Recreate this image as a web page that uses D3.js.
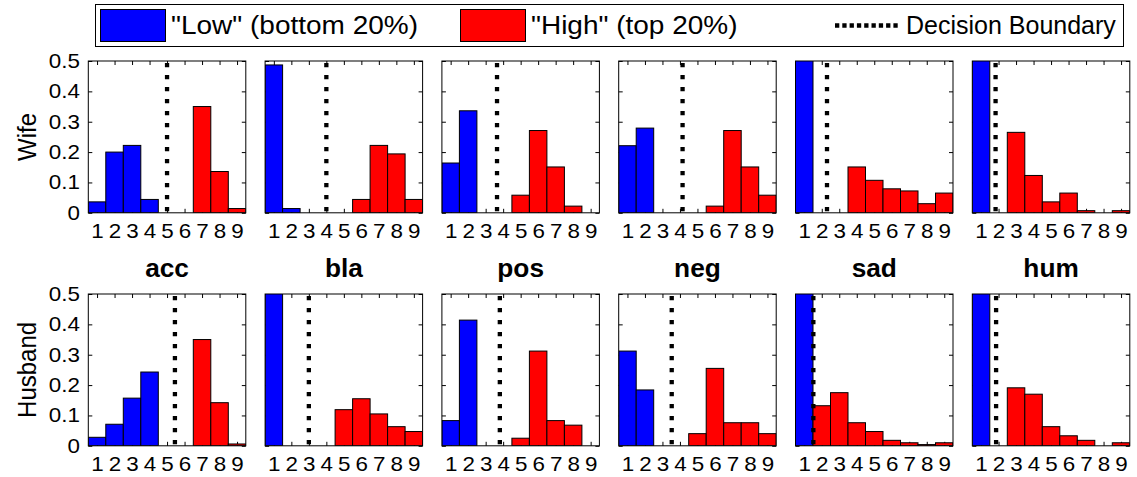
<!DOCTYPE html>
<html>
<head>
<meta charset="utf-8">
<script src="https://cdn.jsdelivr.net/npm/d3@7"></script>
<style>
  html, body { margin: 0; padding: 0; background: #fff; }
  svg { display: block; font-family: "Liberation Sans", Arial, Helvetica, sans-serif; }
</style>
</head>
<body>
<svg id="chart" width="1137" height="477"></svg>
<script>
// Emotion categories (one column each) and speaker rows
const categories = ["acc", "bla", "pos", "neg", "sad", "hum"];
const rows = ["Wife", "Husband"];
const binLabels = ["1", "2", "3", "4", "5", "6", "7", "8", "9"];
const yTicks = [0, 0.1, 0.2, 0.3, 0.4, 0.5];

// Relative frequency per rating bin, "Low" group (bottom 20%)
const wifeLow = [
  [0.036, 0.200, 0.222, 0.044, 0, 0, 0, 0, 0],
  [0.487, 0.014, 0, 0, 0, 0, 0, 0, 0],
  [0.164, 0.336, 0, 0, 0, 0, 0, 0, 0],
  [0.221, 0.279, 0, 0, 0, 0, 0, 0, 0],
  [0.62, 0, 0, 0, 0, 0, 0, 0, 0],
  [0.58, 0, 0, 0, 0, 0, 0, 0, 0]
];
// "High" group (top 20%)
const wifeHigh = [
  [0, 0, 0, 0, 0, 0, 0.350, 0.136, 0.014],
  [0, 0, 0, 0, 0, 0.044, 0.222, 0.194, 0.044],
  [0, 0, 0, 0, 0.058, 0.271, 0.151, 0.022, 0],
  [0, 0, 0, 0, 0, 0.022, 0.271, 0.151, 0.058],
  [0, 0, 0, 0.151, 0.107, 0.079, 0.072, 0.030, 0.065],
  [0, 0, 0.265, 0.123, 0.036, 0.065, 0.007, 0, 0.007]
];
const husbandLow = [
  [0.028, 0.071, 0.157, 0.243, 0, 0, 0, 0, 0],
  [0.55, 0, 0, 0, 0, 0, 0, 0, 0],
  [0.083, 0.414, 0, 0, 0, 0, 0, 0, 0],
  [0.312, 0.184, 0, 0, 0, 0, 0, 0, 0],
  [0.60, 0, 0, 0, 0, 0, 0, 0, 0],
  [0.60, 0, 0, 0, 0, 0, 0, 0, 0]
];
const husbandHigh = [
  [0, 0, 0, 0, 0, 0, 0.350, 0.142, 0.006],
  [0, 0, 0, 0, 0.119, 0.155, 0.105, 0.063, 0.047],
  [0, 0, 0, 0, 0.025, 0.312, 0.083, 0.068, 0],
  [0, 0, 0, 0, 0.040, 0.255, 0.076, 0.076, 0.040],
  [0, 0.132, 0.175, 0.076, 0.047, 0.018, 0.010, 0.004, 0.010],
  [0, 0, 0.191, 0.170, 0.063, 0.033, 0.018, 0, 0.010]
];
// Decision boundary location on the rating axis
const wifeBoundary = [5, 4, 3.65, 4.15, 2.3, 1.83];
const husbandBoundary = [5.45, 3, 3.81, 3.53, 1.52, 1.86];

const legendLabels = ['"Low" (bottom 20%)', '"High" (top 20%)', 'Decision Boundary'];
const lowColor = "#0000ff", highColor = "#ff0000";

const rowData = [
  { low: wifeLow, high: wifeHigh, boundary: wifeBoundary },
  { low: husbandLow, high: husbandHigh, boundary: husbandBoundary }
];

// Layout
const panelLeft0 = 88.3, panelStep = 176.8, panelW = 157.5;
const rowTop = [61, 294], panelH = 151.8;
const tickFont = 20, tickStretch = 1.12;

const svg = d3.select("#chart");
const defs = svg.append("defs");

const x = d3.scaleLinear().domain([0.5, 9.5]).range([0, panelW]);
const y = d3.scaleLinear().domain([0, 0.5]).range([panelH, 0]);
const binW = x(2) - x(1);
const bins = d3.range(1, 10);

rows.forEach((rowName, r) => {
  categories.forEach((cat, c) => {
    const g = svg.append("g")
      .attr("transform", `translate(${panelLeft0 + c * panelStep},${rowTop[r]})`);

    const clipId = `clip-${r}-${c}`;
    defs.append("clipPath").attr("id", clipId)
      .append("rect").attr("x", 0).attr("y", 0).attr("width", panelW).attr("height", panelH);

    // axes (ticks point inward)
    const xb = g.append("g").attr("transform", `translate(0,${panelH})`)
      .call(d3.axisBottom(x).tickValues(bins).tickFormat((d, i) => binLabels[i])
        .tickSize(-4).tickPadding(11));
    const xt = g.append("g")
      .call(d3.axisTop(x).tickValues(bins).tickFormat("").tickSize(-4));
    const yl = g.append("g")
      .call(d3.axisLeft(y).tickValues(yTicks)
        .tickFormat(c === 0 ? d3.format("") : () => "")
        .tickSize(-4).tickPadding(7.5));
    const yr = g.append("g").attr("transform", `translate(${panelW},0)`)
      .call(d3.axisRight(y).tickValues(yTicks).tickFormat("").tickSize(-4));
    [xb, xt, yl, yr].forEach(a => {
      a.select(".domain").remove();
      a.selectAll("line").attr("stroke", "#000").attr("stroke-width", 1);
      a.selectAll("text").attr("fill", "#000").style("font-size", tickFont + "px")
        .style("font-family", '"Liberation Sans", Arial, sans-serif')
        .attr("transform", `scale(${tickStretch},1)`);
    });

    const plot = g.append("g").attr("clip-path", `url(#${clipId})`);
    const d = rowData[r];
    const series = [
      { vals: d.low[c], color: lowColor },
      { vals: d.high[c], color: highColor }
    ];
    series.forEach(s => {
      plot.selectAll(null)
        .data(s.vals.map((v, i) => ({ bin: i + 1, v })).filter(e => e.v > 0))
        .enter().append("rect")
        .attr("x", e => x(e.bin) - binW / 2)
        .attr("width", binW)
        .attr("y", e => y(e.v))
        .attr("height", e => y(0) - y(e.v))
        .attr("fill", s.color)
        .attr("stroke", "#000")
        .attr("stroke-width", 1);
    });

    // decision boundary
    const bx = x(d.boundary[c]);
    plot.append("line")
      .attr("x1", bx).attr("x2", bx)
      .attr("y1", y(0.5) + 2).attr("y2", y(0))
      .attr("stroke", "#000").attr("stroke-width", 4.3)
      .attr("stroke-dasharray", "4.3 7.7");

    // box
    g.append("rect").attr("x", 0).attr("y", 0).attr("width", panelW).attr("height", panelH)
      .attr("fill", "none").attr("stroke", "#000").attr("stroke-width", 1);

    if (r === 0) {
      g.append("text")
        .attr("transform", `translate(${panelW / 2},${panelH + 64}) scale(1.05,1)`)
        .attr("text-anchor", "middle")
        .style("font-size", "25px").style("font-weight", "bold")
        .text(cat);
    }
  });

  svg.append("text")
    .attr("transform", `translate(36,${rowTop[r] + panelH / 2}) rotate(-90) scale(1,1.06)`)
    .attr("text-anchor", "middle")
    .style("font-size", "24px")
    .text(rowName);
});

// Legend
const lg = svg.append("g");
lg.append("rect").attr("x", 95.5).attr("y", 4.5).attr("width", 1028).attr("height", 42)
  .attr("fill", "#fff").attr("stroke", "#000").attr("stroke-width", 1);
const legendItems = [
  { x: 100, type: "low", stretch: 1.12 },
  { x: 460, type: "high", stretch: 1.12 },
  { x: 835, type: "line", stretch: 1 }
];
legendItems.forEach((it, i) => {
  if (it.type === "line") {
    lg.append("line").attr("x1", it.x).attr("x2", it.x + 65)
      .attr("y1", 25.5).attr("y2", 25.5)
      .attr("stroke", "#000").attr("stroke-width", 4.3)
      .attr("stroke-dasharray", "4.3 3");
  } else {
    lg.append("rect").attr("x", it.x + 0.5).attr("y", 9.5).attr("width", 65).attr("height", 32)
      .attr("fill", it.type === "low" ? lowColor : highColor)
      .attr("stroke", "#000").attr("stroke-width", 1);
  }
  lg.append("text")
    .attr("transform", `translate(${it.x + 71},34) scale(${it.stretch},1)`)
    .style("font-size", "25px")
    .text(legendLabels[i]);
});
</script>
</body>
</html>
